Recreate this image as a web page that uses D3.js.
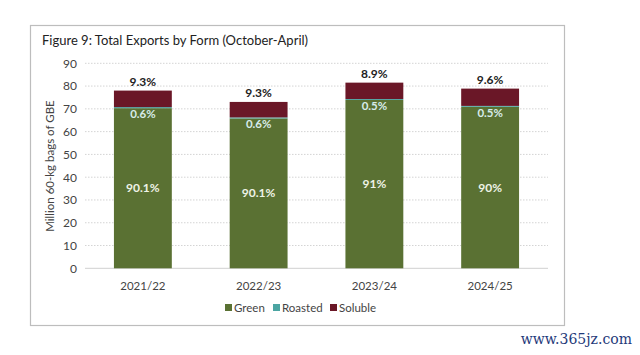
<!DOCTYPE html>
<html><head><meta charset="utf-8">
<script src="https://cdn.jsdelivr.net/npm/d3@7"></script>
<style>html,body{margin:0;padding:0;background:#fff;}svg{display:block;}</style>
</head><body>
<script>
const categories = ["2021/22", "2022/23", "2023/24", "2024/25"];
const green = [70.3, 65.8, 73.9, 70.9];
const roasted = [0.47, 0.44, 0.41, 0.39];
const soluble = [7.25, 6.8, 7.2, 7.6];
const greenLabels = ["90.1%", "90.1%", "91%", "90%"];
const roastedLabels = ["0.6%", "0.6%", "0.5%", "0.5%"];
const solubleLabels = ["9.3%", "9.3%", "8.9%", "9.6%"];
const yTicks = [0, 10, 20, 30, 40, 50, 60, 70, 80, 90];
const seriesNames = ["Green", "Roasted", "Soluble"];
const colors = {Green: "#5a7133", Roasted: "#4ba5a2", Soluble: "#6a1727"};

const W = 640, H = 355;
const svg = d3.select("body").append("svg").attr("width", W).attr("height", H);
const font = "Lato, 'Open Sans', sans-serif";

// outer frame
svg.append("rect").attr("x", 30.5).attr("y", 25.5).attr("width", 534).attr("height", 300)
  .attr("fill", "#fff").attr("stroke", "#bdbdbd").attr("stroke-width", 1.2);

svg.append("text").attr("x", 42).attr("y", 45).attr("font-family", font)
  .attr("font-size", 13).attr("fill", "#222").text("Figure 9: Total Exports by Form (October-April)");

const x = d3.scaleBand().domain(categories).range([85, 548]).paddingInner(0.5).paddingOuter(0.25);
const y = d3.scaleLinear().domain([0, 90]).range([268.3, 63.3]);

// gridlines
svg.append("g").selectAll("line").data(yTicks.filter(d => d > 0)).join("line")
  .attr("x1", 85).attr("x2", 548).attr("y1", d => y(d)).attr("y2", d => y(d))
  .attr("stroke", "#d4d4d4").attr("stroke-width", 1).attr("stroke-dasharray", "1.5,1.5");
svg.append("line").attr("x1", 85).attr("x2", 548).attr("y1", y(0)).attr("y2", y(0))
  .attr("stroke", "#d0d0d0").attr("stroke-width", 1);

// y axis
const yAxis = svg.append("g").attr("transform", "translate(85,0)")
  .call(d3.axisLeft(y).tickValues(yTicks).tickSize(0).tickPadding(8));
yAxis.select(".domain").remove();
yAxis.selectAll("text").attr("font-family", font).attr("font-size", 12).attr("fill", "#444");

svg.append("text").attr("transform", "translate(54,166) rotate(-90)")
  .attr("text-anchor", "middle").attr("font-family", font).attr("font-size", 11.5)
  .attr("fill", "#444").text("Million 60-kg bags of GBE");

// x axis
const xAxis = svg.append("g").attr("transform", `translate(0,${y(0)})`)
  .call(d3.axisBottom(x).tickSize(0).tickPadding(14));
xAxis.select(".domain").remove();
xAxis.selectAll("text").attr("font-family", font).attr("font-size", 11.5).attr("fill", "#444");

// stacked data
const rows = categories.map((c, i) => ({cat: c, Green: green[i], Roasted: roasted[i], Soluble: soluble[i]}));
const stack = d3.stack().keys(seriesNames)(rows);
svg.append("g").selectAll("g").data(stack).join("g")
  .attr("fill", d => colors[d.key])
  .selectAll("rect").data(d => d).join("rect")
  .attr("x", d => x(d.data.cat)).attr("width", x.bandwidth())
  .attr("y", d => y(d[1])).attr("height", d => y(d[0]) - y(d[1]));

// labels
const lbl = svg.append("g").attr("font-family", font).attr("font-weight", "bold").attr("text-anchor", "middle");
categories.forEach((c, i) => {
  const cx = x(c) + x.bandwidth() / 2;
  lbl.append("text").attr("x", cx).attr("y", y(green[i] / 2) + 4).attr("font-size", 12)
    .attr("fill", "#eef3e6").text(greenLabels[i]);
  lbl.append("text").attr("x", cx).attr("y", y(green[i]) + 10).attr("font-size", 11.5)
    .attr("fill", "#d7ecea").text(roastedLabels[i]);
  const top = green[i] + roasted[i] + soluble[i];
  lbl.append("text").attr("x", cx).attr("y", y(top) - 5).attr("font-size", 12)
    .attr("fill", "#222").text(solubleLabels[i]);
});

// legend
const legendX = [225, 273, 330];
const lg = svg.append("g");
seriesNames.forEach((s, i) => {
  lg.append("rect").attr("x", legendX[i]).attr("y", 304).attr("width", 7).attr("height", 7).attr("fill", colors[s]);
  lg.append("text").attr("x", legendX[i] + 9).attr("y", 311.5).attr("font-family", font)
    .attr("font-size", 11.5).attr("fill", "#444").text(s);
});

// watermark
svg.append("text").attr("x", 632).attr("y", 344).attr("text-anchor", "end")
  .attr("font-family", "'DejaVu Serif', serif").attr("font-size", 14).attr("fill", "#1f3a7a")
  .text("www.365jz.com");
</script>
</body></html>
